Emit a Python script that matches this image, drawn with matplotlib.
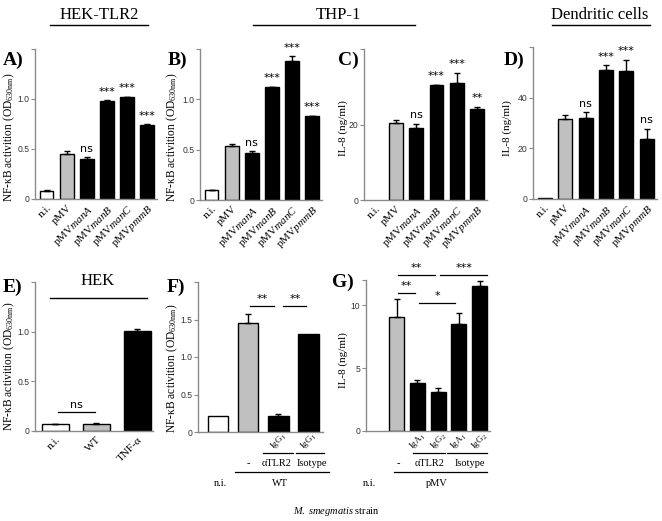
import numpy as np
import matplotlib
matplotlib.use('Agg')
import matplotlib.pyplot as plt
from matplotlib.lines import Line2D
from matplotlib.transforms import blended_transform_factory

plt.rcParams['font.family'] = 'Liberation Serif'
plt.rcParams['mathtext.fontset'] = 'custom'
plt.rcParams['mathtext.rm'] = 'Liberation Serif'
plt.rcParams['mathtext.it'] = 'Liberation Serif:italic'
plt.rcParams['mathtext.bf'] = 'Liberation Serif:bold'

###############################################################################
# Data
###############################################################################
strains = ['n.i.', 'pMV', r'pMV$\mathit{manA}$', r'pMV$\mathit{manB}$',
           r'pMV$\mathit{manC}$', r'pMV$\mathit{pmmB}$']
strain_colors = ['white', '#c0c0c0', 'black', 'black', 'black', 'black']

# A) HEK-TLR2
a_vals = [0.08, 0.45, 0.40, 0.98, 1.02, 0.74]
a_err = [0.005, 0.03, 0.02, 0.005, 0.003, 0.006]
a_sig = ['', '', 'ns', '***', '***', '***']
# B) THP-1 NF-kB
b_vals = [0.10, 0.54, 0.47, 1.12, 1.38, 0.83]
b_err = [0.004, 0.015, 0.012, 0.003, 0.05, 0.005]
b_sig = ['', '', 'ns', '***', '***', '***']
# C) THP-1 IL-8
c_vals = [0.0, 20.4, 19.0, 30.4, 31.0, 24.1]
c_err = [0.0, 0.7, 1.2, 0.1, 2.7, 0.6]
c_sig = ['', '', 'ns', '***', '***', '**']
# D) Dendritic cells IL-8
d_vals = [0.3, 31.4, 32.1, 50.9, 50.5, 23.8]
d_err = [0.0, 1.7, 2.2, 1.9, 4.4, 3.9]
d_sig = ['', '', 'ns', '***', '***', 'ns']

# E) HEK
e_labels = ['n.i.', 'WT', 'TNF-α']
e_vals = [0.07, 0.07, 1.01]
e_err = [0.005, 0.015, 0.012]
e_colors = ['white', '#c0c0c0', 'black']

# F) WT + antibodies
f_vals = [0.22, 1.45, 0.21, 1.31]
f_err = [0.0, 0.13, 0.025, 0.0]
f_colors = ['white', '#c0c0c0', 'black', 'black']
f_ab = ['', '', r'IgG$_1$', r'IgG$_1$']

# G) pMV + antibodies
g_vals = [0.0, 9.07, 3.83, 3.07, 8.47, 11.5]
g_err = [0.0, 1.45, 0.25, 0.33, 0.87, 0.4]
g_colors = ['white', '#c0c0c0', 'black', 'black', 'black', 'black']
g_ab = ['', '', r'IgA$_1$', r'IgG$_2$', r'IgA$_1$', r'IgG$_2$']

###############################################################################
# Figure helpers
###############################################################################
W, H = 662, 521
fig = plt.figure(figsize=(W / 100, H / 100), dpi=100)
SPINE = '#8a8a8a'
TICKFONT = 'Liberation Sans'


def fx(x):
    return x / W


def fy(y):
    return 1 - y / H


def add_ax(l, t, r, b):
    return fig.add_axes([l / W, 1 - b / H, (r - l) / W, (b - t) / H])


def style(ax, ymax, ticks, ticklabels, xlim):
    for s in ['top', 'right']:
        ax.spines[s].set_visible(False)
    for s in ['left', 'bottom']:
        ax.spines[s].set_color(SPINE)
        ax.spines[s].set_linewidth(1.0)
    ax.set_xlim(*xlim)
    ax.set_ylim(0, ymax)
    ax.set_yticks(list(ticks) + [ymax])
    ax.set_yticklabels(list(ticklabels) + [''], fontfamily=TICKFONT,
                       fontsize=6.2, color='#333333')
    ax.tick_params(axis='y', direction='out', length=3, color=SPINE, pad=1.2)
    ax.tick_params(axis='x', length=0)


def bars(ax, vals, errs, colors, width):
    x = np.arange(len(vals))
    vals = np.array(vals)
    errs = np.array(errs)
    keep = vals > 0
    ax.bar(x[keep], vals[keep], width=width, color=np.array(colors)[keep],
           edgecolor='black', linewidth=1.0, zorder=2)
    e = errs > 0
    ax.errorbar(x[e], vals[e], yerr=[np.zeros(e.sum()), errs[e]], fmt='none',
                ecolor='black', elinewidth=1.0, capsize=2.5, capthick=1.0,
                zorder=3)
    return x


def stars(ax, vals, errs, sig):
    for i, s in enumerate(sig):
        if s:
            ax.annotate(s, (i, vals[i] + errs[i]), xytext=(0, 2.5),
                        textcoords='offset points', ha='center', va='bottom',
                        fontsize=8, fontfamily='DejaVu Sans')


def bracket(ax, x0, x1, y, label, dy=1.5):
    ax.plot([x0, x1], [y, y], color='black', lw=0.9, clip_on=False)
    ax.annotate(label, ((x0 + x1) / 2, y), xytext=(0, dy),
                textcoords='offset points', ha='center', va='bottom',
                fontsize=8, fontfamily='DejaVu Sans', annotation_clip=False)


def hline_fig(x0, x1, y):
    fig.add_artist(Line2D([fx(x0), fx(x1)], [fy(y), fy(y)], color='black',
                          lw=1.0, transform=fig.transFigure))


###############################################################################
# Top row: A-D
###############################################################################
top_panels = [
    ('A)', (35, 49, 157, 199), a_vals, a_err, a_sig, 1.5, [0, 0.5, 1.0], ['0', '0.5', '1.0'], 3),
    ('B)', (200, 49, 322, 200), b_vals, b_err, b_sig, 1.5, [0, 0.5, 1.0], ['0', '0.5', '1.0'], 168),
    ('C)', (364, 49, 487, 200), c_vals, c_err, c_sig, 40, [0, 20], ['0', '20'], 338),
    ('D)', (533, 47, 657, 199), d_vals, d_err, d_sig, 60, [0, 20, 40], ['0', '20', '40'], 504),
]
for letter, box, vals, errs, sig, ymax, ticks, tl, lx in top_panels:
    ax = add_ax(*box)
    style(ax, ymax, ticks, tl, (-0.58, 5.5))
    x = bars(ax, vals, errs, strain_colors, 0.68)
    stars(ax, vals, errs, sig)
    ax.set_xticks(x)
    ax.set_xticklabels(strains, rotation=45, ha='right', va='top',
                       rotation_mode='anchor', fontsize=8)
    ax.tick_params(axis='x', pad=3)
    fig.text(fx(lx), fy(60), letter, fontsize=14, fontweight='bold',
             ha='left', va='center')

nfkb = r'NF-κB activition (OD$_\mathrm{630nm}$)'
fig.text(fx(9), fy(137), nfkb, rotation=90, ha='center', va='center', fontsize=8.3)
fig.text(fx(172), fy(137), nfkb, rotation=90, ha='center', va='center', fontsize=8.3)
fig.text(fx(343), fy(128), 'IL-8 (ng/ml)', rotation=90, ha='center', va='center', fontsize=8)
fig.text(fx(507), fy(128), 'IL-8 (ng/ml)', rotation=90, ha='center', va='center', fontsize=8)

# group titles
for title, cx, x0, x1 in [('HEK-TLR2', 99, 50, 148), ('THP-1', 338, 253, 415),
                          ('Dendritic cells', 600, 552, 650)]:
    fig.text(fx(cx), fy(15), title, ha='center', va='center', fontsize=12)
    hline_fig(x0, x1, 25)

###############################################################################
# E) HEK
###############################################################################
ax = add_ax(35, 282, 153, 431)
style(ax, 1.5, [0, 0.5, 1.0], ['0', '0.5', '1.0'], (-0.5, 2.38))
x = bars(ax, e_vals, e_err, e_colors, 0.67)
ax.set_xticks(x)
ax.set_xticklabels(e_labels, rotation=45, ha='right', va='top',
                   rotation_mode='anchor', fontsize=8)
ax.tick_params(axis='x', pad=3)
bracket(ax, 0.06, 0.96, 0.19, 'ns')
ax.plot([-0.13, 2.23], [1.34, 1.34], color='black', lw=1.0, clip_on=False)
ax.text(1.04, 1.51, 'HEK', ha='center', va='center', fontsize=12)
fig.text(fx(3), fy(287), 'E)', fontsize=14, fontweight='bold', ha='left', va='center')
fig.text(fx(9), fy(366), nfkb, rotation=90, ha='center', va='center', fontsize=8.3)

###############################################################################
# F) WT with anti-TLR2
###############################################################################
ax = add_ax(198, 282, 323, 432)
style(ax, 2.0, [0, 0.5, 1.0, 1.5], ['0', '0.5', '1.0', '1.5'], (-0.66, 3.48))
x = bars(ax, f_vals, f_err, f_colors, 0.68)
ax.set_xticks([])
bracket(ax, 1.07, 1.87, 1.68, '**')
bracket(ax, 2.17, 2.93, 1.68, '**')
tr = blended_transform_factory(ax.transData, fig.transFigure)
for i, lab in enumerate(f_ab):
    if lab:
        ax.text(i, fy(441), lab, transform=tr, rotation=45, ha='center',
                va='center', fontsize=6.5)
for x0, x1, y in [(1.5, 2.5, 453), (2.6, 3.5, 453), (0.57, 3.67, 472)]:
    ax.plot([x0, x1], [fy(y), fy(y)], transform=tr, color='black', lw=0.9,
            clip_on=False)
for xx, lab in [(1.0, '-'), (1.95, 'αTLR2'), (3.1, 'Isotype')]:
    ax.text(xx, fy(464), lab, transform=tr, ha='center', va='center', fontsize=7.5)
ax.text(0.1, fy(483), 'n.i.', transform=tr, ha='center', va='center', fontsize=7.5)
ax.text(2.07, fy(483), 'WT', transform=tr, ha='center', va='center', fontsize=7.5)
fig.text(fx(167), fy(287), 'F)', fontsize=14, fontweight='bold', ha='left', va='center')
fig.text(fx(172), fy(368), nfkb, rotation=90, ha='center', va='center', fontsize=8.3)

###############################################################################
# G) pMV with anti-TLR2
###############################################################################
ax = add_ax(366, 280, 490, 431)
style(ax, 12, [0, 5, 10], ['0', '5', '10'], (-0.47, 5.5))
x = bars(ax, g_vals, g_err, g_colors, 0.72)
ax.set_xticks([])
bracket(ax, 1.07, 2.86, 12.38, '**')
bracket(ax, 3.1, 5.36, 12.38, '***')
bracket(ax, 1.07, 1.9, 10.98, '**')
bracket(ax, 2.08, 3.82, 10.18, '*')
tr = blended_transform_factory(ax.transData, fig.transFigure)
for i, lab in enumerate(g_ab):
    if lab:
        ax.text(i, fy(441), lab, transform=tr, rotation=45, ha='center',
                va='center', fontsize=6.5)
for x0, x1, y in [(1.8, 3.34, 453), (3.44, 5.36, 453), (0.88, 5.36, 472)]:
    ax.plot([x0, x1], [fy(y), fy(y)], transform=tr, color='black', lw=0.9,
            clip_on=False)
for xx, lab in [(1.07, '-'), (2.6, 'αTLR2'), (4.55, 'Isotype')]:
    ax.text(xx, fy(464), lab, transform=tr, ha='center', va='center', fontsize=7.5)
ax.text(-0.3, fy(483), 'n.i.', transform=tr, ha='center', va='center', fontsize=7.5)
ax.text(2.95, fy(483), 'pMV', transform=tr, ha='center', va='center', fontsize=7.5)
fig.text(fx(332), fy(282), 'G)', fontsize=14, fontweight='bold', ha='left', va='center')
fig.text(fx(343), fy(360), 'IL-8 (ng/ml)', rotation=90, ha='center', va='center', fontsize=8)

# common x label
fig.text(fx(336), fy(512), r'$\mathit{M.\ smegmatis}$ strain', ha='center',
         va='center', fontsize=7.5)

fig.savefig('out.png', dpi=100)
